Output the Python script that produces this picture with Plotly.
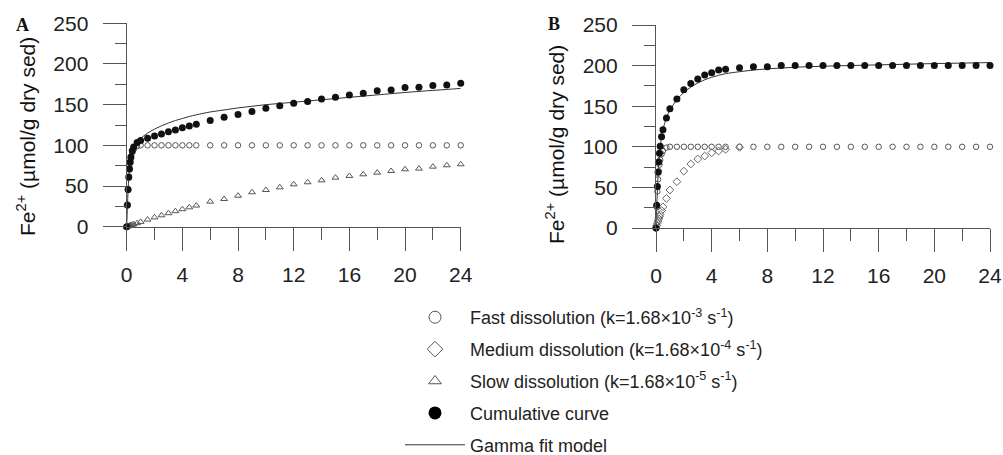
import plotly.graph_objects as go

# ---------------- data ----------------
time = [0, 0.05, 0.1, 0.15, 0.2, 0.25, 0.3, 0.4, 0.5, 0.75,
        1, 1.5, 2, 2.5, 3, 3.5, 4, 4.5, 5,
        6, 7, 8, 9, 10, 11, 12, 13, 14, 15, 16, 17, 18, 19, 20, 21, 22, 23, 24]

# Panel A
a_fast = [0, 26, 45, 60, 70, 78, 84, 91, 95, 99] + [100] * 28
a_slow = [0, 0.3, 0.6, 0.9, 1.2, 1.5, 1.8, 2.4, 3.0, 4.4,
          5.9, 8.7, 11.4, 14.0, 16.6, 19.1, 21.5, 23.8, 26.0,
          30.8, 34.0, 38.1, 42.3, 45.1, 48.4, 52.1, 54.6, 57.0, 60.3,
          62.4, 64.4, 66.4, 68.5, 70.6, 71.4, 73.8, 75.5, 76.7]
a_cum = [0, 26.7, 45.6, 61, 71.2, 79.5, 85.8, 93.4, 98, 103.4,
         106, 108.7, 111.4, 114, 116.7, 119, 121.5, 123.8, 126,
         130.4, 134.5, 138, 141.5, 145.6, 148.8, 151.7, 153.8, 157, 159,
         162, 164, 167, 168, 171, 171.5, 173.5, 174.3, 176.4]
a_fit = [0, 24, 45, 60, 71, 79, 85, 93, 98, 104,
         108.5, 115, 120, 124, 127.5, 130.5, 133, 135.5, 137.5,
         141, 143.5, 146, 148, 150, 151.5, 153, 154.5, 156, 157.5,
         159, 160.5, 162, 163.5, 165, 166.3, 167.5, 168.7, 170]

# Panel B
b_fast = [0, 26, 45, 60, 70, 78, 84, 91, 95, 99] + [100] * 28
b_med = [0, 3, 6, 8.7, 11.4, 14, 16.6, 21.5, 26, 36.5,
         46.8, 57, 70, 78.8, 85, 88.7, 92.7, 94.8, 96.9, 99.4]
b_cum = [0, 28, 51, 68.7, 81.4, 92, 100.6, 112.5, 121, 135.5,
         147, 159, 170.2, 178, 183.5, 188.4, 191.3, 194.6, 195.4,
         197.4, 198.6, 198.6] + [200] * 16
b_fit = [0, 25, 47, 65, 79, 90, 99, 112, 121, 136,
         145, 158, 167, 173.5, 178.5, 182.5, 185.5, 188, 190,
         192.5, 194.5, 196, 197, 198, 198.7, 199.2, 199.7, 200.1, 200.5,
         200.9, 201.3, 201.7, 202.1, 202.5, 202.8, 203.1, 203.4, 203.7]

legend_names = [
    "Fast dissolution (k=1.68×10<sup>-3</sup> s<sup>-1</sup>)",
    "Medium dissolution (k=1.68×10<sup>-4</sup> s<sup>-1</sup>)",
    "Slow dissolution (k=1.68×10<sup>-5</sup> s<sup>-1</sup>)",
    "Cumulative curve",
    "Gamma fit model",
]
x_dtick = 4
y_dtick = 50
y_title = "Fe<sup>2+</sup> (µmol/g dry sed)"

# ---------------- styles ----------------
FONT = "Liberation Sans, Arial, sans-serif"
AX = "#555555"
FIT = dict(color="#333333", width=1)
FAST = dict(symbol="circle-open", size=5.5, color="#555555", line=dict(width=1, color="#555555"))
MED = dict(symbol="diamond-open", size=6, color="#666666", line=dict(width=1, color="#666666"))
SLOW = dict(symbol="triangle-up-open", size=6, color="#555555", line=dict(width=1, color="#555555"))
CUM = dict(symbol="circle", size=7, color="#111111", line=dict(width=0))

fig = go.Figure()

def add_panel(xa, ya, fit, fast, mid, cum, slow=None):
    fig.add_trace(go.Scatter(x=time, y=fit, mode="lines", line=FIT, line_shape="spline",
                             xaxis=xa, yaxis=ya, showlegend=False, cliponaxis=False))
    fig.add_trace(go.Scatter(x=time, y=fast, mode="markers", marker=FAST,
                             xaxis=xa, yaxis=ya, showlegend=False, cliponaxis=False))
    if mid is not None:
        fig.add_trace(go.Scatter(x=time[:len(mid)], y=mid, mode="markers", marker=MED,
                                 xaxis=xa, yaxis=ya, showlegend=False, cliponaxis=False))
    if slow is not None:
        fig.add_trace(go.Scatter(x=time, y=slow, mode="markers", marker=SLOW,
                                 xaxis=xa, yaxis=ya, showlegend=False, cliponaxis=False))
    fig.add_trace(go.Scatter(x=time, y=cum, mode="markers", marker=CUM,
                             xaxis=xa, yaxis=ya, showlegend=False, cliponaxis=False))

add_panel("x", "y", a_fit, a_fast, None, a_cum, slow=a_slow)
add_panel("x2", "y2", b_fit, b_fast, b_med, b_cum)

# legend entries
leg_styles = [
    dict(mode="markers", marker=dict(symbol="circle-open", size=12, color="#555555", line=dict(width=1, color="#555555"))),
    dict(mode="markers", marker=dict(symbol="diamond-open", size=12, color="#555555", line=dict(width=1, color="#555555"))),
    dict(mode="markers", marker=dict(symbol="triangle-up-open", size=11, color="#555555", line=dict(width=1, color="#555555"))),
    dict(mode="markers", marker=dict(symbol="circle", size=13, color="#000000")),
    dict(mode="lines", line=dict(color="#333333", width=1)),
]
for i, (nm, st) in enumerate(zip(legend_names, leg_styles)):
    fig.add_trace(go.Scatter(x=[None], y=[None], name=nm, legendgroup=str(i),
                             showlegend=True, xaxis="x", yaxis="y", **st))

W, H = 1003, 455

def xax(dom, anchor):
    return dict(domain=dom, anchor=anchor, range=[0, 24], tickmode="linear", tick0=0, dtick=x_dtick,
                ticks="outside", ticklen=23, tickcolor=AX, tickwidth=1.2,
                showline=True, linecolor=AX, linewidth=1.2,
                showgrid=False, zeroline=False, automargin=False, ticklabelstandoff=6,
                tickfont=dict(family=FONT, size=21, color="#222222"),
                minor=dict(dtick=x_dtick / 2, tick0=0, ticks="outside", ticklen=12,
                           tickcolor=AX, tickwidth=1.2, showgrid=False))

def yax(dom, anchor):
    return dict(domain=dom, anchor=anchor, range=[0, 250], tickmode="linear", tick0=0, dtick=y_dtick,
                ticks="outside", ticklen=23, tickcolor=AX, tickwidth=1.2,
                showline=True, linecolor=AX, linewidth=1.2,
                showgrid=False, zeroline=False, automargin=False, ticklabelstandoff=10,
                tickfont=dict(family=FONT, size=21, color="#222222"),
                minor=dict(dtick=y_dtick / 2, tick0=0, ticks="outside", ticklen=11,
                           tickcolor=AX, tickwidth=1.2, showgrid=False))

def ann(text, x, y, size, family, angle=0):
    return dict(text=text, x=x / W, y=1 - y / H, xref="paper", yref="paper", showarrow=False,
                xanchor="center", yanchor="middle", textangle=angle,
                font=dict(family=family, size=size, color="#111111"))

SERIF = "Liberation Serif, Times New Roman, serif"
fig.update_layout(
    width=W, height=H,
    margin=dict(l=0, r=0, t=0, b=0, autoexpand=False),
    paper_bgcolor="white", plot_bgcolor="white",
    xaxis=xax([126.7 / W, 460.7 / W], "y"),
    yaxis=yax([1 - 226.7 / H, 1 - 23.3 / H], "x"),
    xaxis2=xax([656 / W, 990 / W], "y2"),
    yaxis2=yax([1 - 228 / H, 1 - 25 / H], "x2"),
    legend=dict(x=400 / W, y=1 - 299 / H, xanchor="left", yanchor="top",
                itemwidth=60, tracegroupgap=5.5, bgcolor="rgba(0,0,0,0)",
                font=dict(family=FONT, size=18, color="#222222")),
    annotations=[
        ann("<b>A</b>", 22, 25, 18, SERIF),
        ann("<b>B</b>", 554, 24, 18, SERIF),
        ann(y_title, 26, 137, 21, FONT, -90),
        ann(y_title, 555, 145, 21, FONT, -90),
    ],
)

fig.write_html("out.html")
